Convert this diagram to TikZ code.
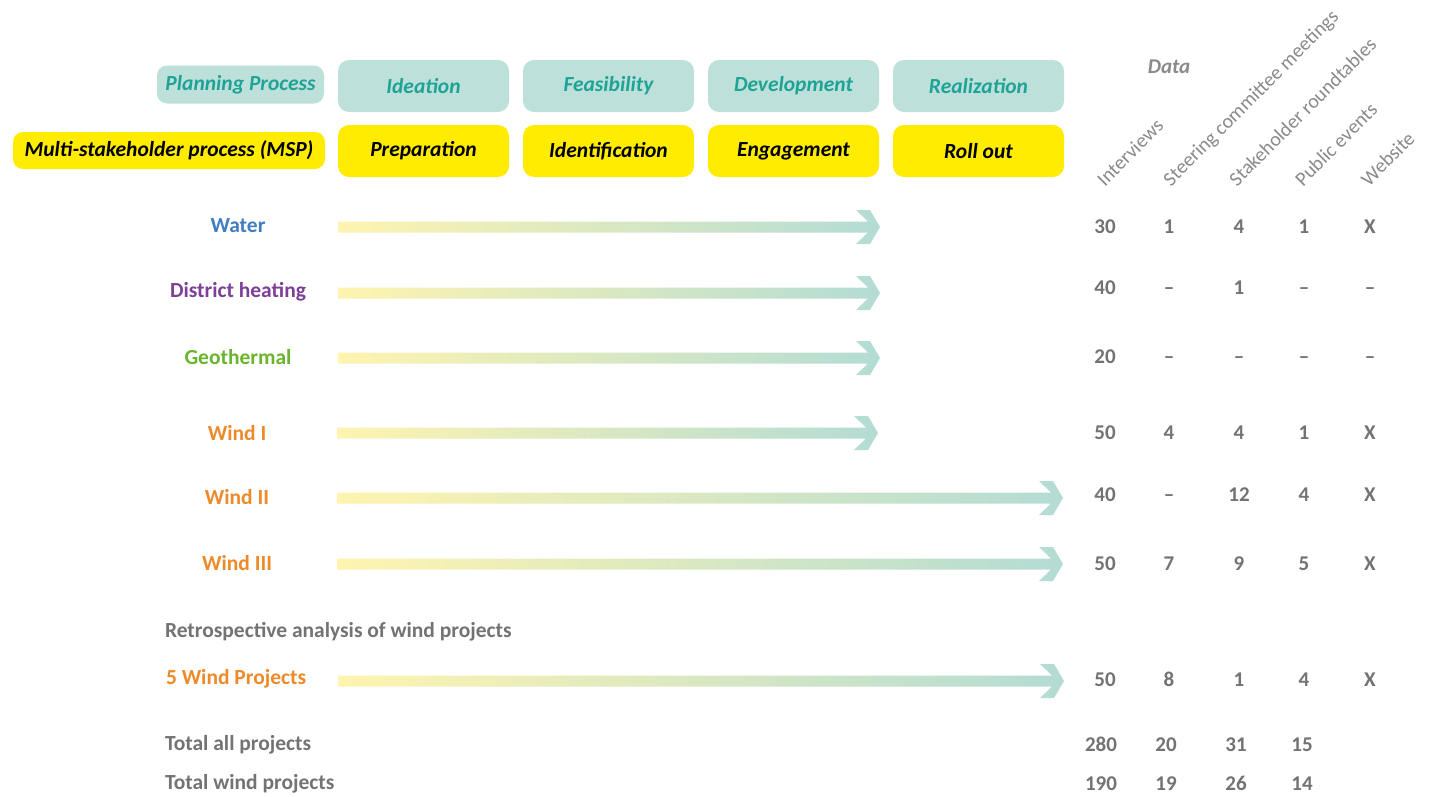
\documentclass[tikz,border=0pt]{standalone}
\usepackage{fontspec}
\setmainfont{Carlito}
\definecolor{tealfill}{HTML}{BDE1DA}
\definecolor{tealtext}{HTML}{1FA396}
\definecolor{yel}{HTML}{FFEC00}
\definecolor{arrY}{HTML}{FFF4B0}
\definecolor{arrT}{HTML}{B3DCD4}
\definecolor{greytext}{HTML}{737373}
\definecolor{hdrgrey}{HTML}{8A8A8A}
\definecolor{cwater}{HTML}{3F7EC1}
\definecolor{cdh}{HTML}{7D3F97}
\definecolor{cgeo}{HTML}{6BB42E}
\definecolor{cwind}{HTML}{EE8A2A}
\newcommand\gradarrow[4]{% name, y, xstart, xend
  \coordinate (#1s) at (#3,#2);
  \coordinate (#1e) at (#4,#2);
  \shade[left color=arrY, right color=arrT]
    (#3,#2-5.5) -- (#4-12,#2-5.5) -- (#4-24,#2-17) -- (#4-10,#2-17) -- (#4,#2)
    -- (#4-10,#2+17) -- (#4-24,#2+17) -- (#4-12,#2+5.5) -- (#3,#2+5.5) -- cycle;
}
\begin{document}
\begin{tikzpicture}[x=1pt,y=-1pt,
  every node/.style={inner sep=0pt,outer sep=0pt},
  tealbox/.style={fill=tealfill,rounded corners=11pt,minimum width=171pt,minimum height=52pt,
     text=tealtext,font=\fontsize{21.5}{24}\selectfont\bfseries\itshape},
  yelbox/.style={fill=yel,rounded corners=11pt,minimum width=171pt,minimum height=52pt,
     text=black,font=\fontsize{21.5}{24}\selectfont\bfseries\itshape},
  rowlabel/.style={font=\fontsize{21.5}{24}\selectfont\bfseries},
  grey/.style={text=greytext,font=\fontsize{21.5}{24}\selectfont\bfseries},
  num/.style={text=greytext,font=\fontsize{21}{24}\selectfont\bfseries,text height=13.5pt,text depth=0pt},
  colhdr/.style={text=hdrgrey,font=\fontsize{20}{22}\selectfont,rotate=45,anchor=base west}
]
\useasboundingbox[fill=white] (0,0) rectangle (1436,796);

% header left labels
\node[tealbox,minimum width=167pt,minimum height=38pt,rounded corners=10pt] (pp) at (240.5,84.5) {Planning Process};
\node[yelbox,minimum width=312pt,minimum height=37pt,rounded corners=10pt] (msp) at (169,150.5) {Multi-stakeholder process (MSP)};

% phase boxes
\node[tealbox] (ideation) at (423.5,86) {Ideation};
\node[tealbox] (feas) at (608.5,86) {Feasibility};
\node[tealbox] (dev) at (793.5,86) {Development};
\node[tealbox] (real) at (978.5,86) {Realization};
\node[yelbox] (prep) at (423.5,151) {Preparation};
\node[yelbox] (ident) at (608.5,151) {Identification};
\node[yelbox] (eng) at (793.5,151) {Engagement};
\node[yelbox] (roll) at (978.5,151) {Roll out};

% data header
\node[text=hdrgrey,font=\fontsize{21}{24}\selectfont\bfseries\itshape] (data) at (1169,67) {Data};
\node[colhdr] (hint) at (1105,187) {Interviews};
\node[colhdr] (hsteer) at (1171,187) {Steering committee meetings};
\node[colhdr] (hstake) at (1237,187) {Stakeholder roundtables};
\node[colhdr] (hpub) at (1303,187) {Public events};
\node[colhdr] (hweb) at (1369,187) {Website};

% row labels
\node[rowlabel,text=cwater] (water) at (238,226) {Water};
\node[rowlabel,text=cdh] (dh) at (238,292) {District heating};
\node[rowlabel,text=cgeo] (geo) at (238,357) {Geothermal};
\node[rowlabel,text=cwind] (w1) at (237,433) {Wind I};
\node[rowlabel,text=cwind] (w2) at (237,497) {Wind II};
\node[rowlabel,text=cwind] (w3) at (237,563) {Wind III};
\node[grey,anchor=west] (retro) at (165,632) {Retrospective analysis of wind projects};
\node[rowlabel,text=cwind,anchor=west] (w5) at (166,679) {5 Wind Projects};
\node[grey,anchor=west] (tall) at (165,745) {Total all projects};
\node[grey,anchor=west] (twind) at (165,784) {Total wind projects};

% arrows
\gradarrow{a1}{227}{338}{880}
\gradarrow{a2}{293}{338}{880}
\gradarrow{a3}{358}{338}{880}
\gradarrow{a4}{433}{337}{878}
\gradarrow{a5}{498}{337}{1063}
\gradarrow{a6}{564}{337}{1063}
\gradarrow{a7}{681}{338}{1064}

% data values
\foreach \y/\a/\b/\c/\d/\e in {227/30/1/4/1/X, 288/40/--/1/--/--, 357/20/--/--/--/--,
  433/50/4/4/1/X, 495/40/--/12/4/X, 564/50/7/9/5/X, 680/50/8/1/4/X} {
  \node[num] at (1105,\y) {\a};
  \node[num] at (1169,\y) {\b};
  \node[num] at (1239,\y) {\c};
  \node[num] at (1304,\y) {\d};
  \node[num] at (1370,\y) {\e};
}
\foreach \y/\a/\b/\c/\d in {745/280/20/31/15, 784/190/19/26/14} {
  \node[num] at (1101,\y) {\a};
  \node[num] at (1166,\y) {\b};
  \node[num] at (1236,\y) {\c};
  \node[num] at (1302,\y) {\d};
}
\end{tikzpicture}
\end{document}
